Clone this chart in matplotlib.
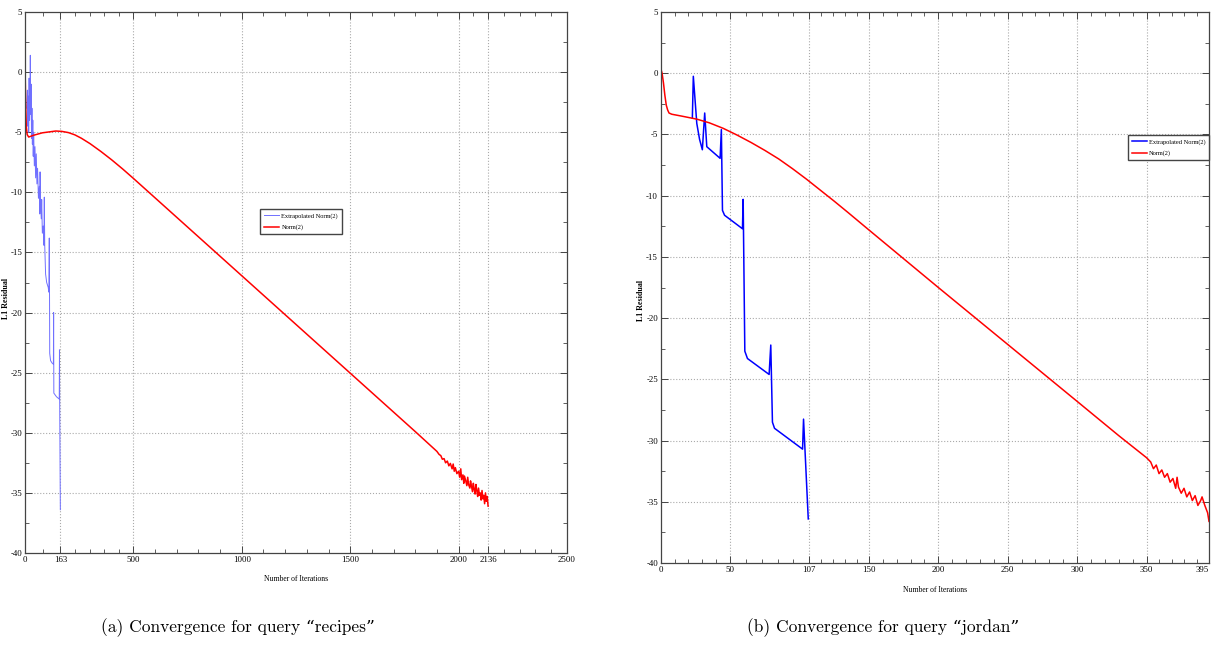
import matplotlib
matplotlib.use('Agg')
import matplotlib.pyplot as plt
import numpy as np

# --- данные ---
# (a) запрос "recipes"
recipesNormIter = [0, 3, 6, 10, 17, 40, 80, 142, 170, 200, 230, 260, 300, 350, 400, 450, 500, 600, 800, 1000,
                   1200, 1500, 1800, 1900, 1910, 1918, 1925, 1933, 1940, 1948, 1955, 1962, 1970, 1975, 1980,
                   1985, 1992, 2000, 2005, 2010, 2014, 2020, 2024, 2027, 2033, 2038, 2042, 2046, 2052, 2055,
                   2058, 2064, 2068, 2072, 2076, 2080, 2084, 2088, 2092, 2096, 2100, 2104, 2108, 2112, 2116,
                   2120, 2124, 2128, 2132, 2136]
recipesNorm = [0.5, -2.5, -4.5, -5.2, -5.4, -5.25, -5.05, -4.9, -4.93, -5.03, -5.22, -5.5, -5.95, -6.6, -7.3,
               -8.05, -8.84, -10.46, -13.7, -16.94, -20.18, -25.04, -29.9, -31.55, -31.8, -31.9, -32.2,
               -32.15, -32.5, -32.35, -32.75, -32.55, -33.0, -32.6, -33.2, -32.9, -33.4, -33.2, -33.7, -33.0,
               -33.9, -33.5, -34.2, -33.6, -34.0, -34.4, -33.7, -34.3, -34.6, -34.0, -34.3, -34.9, -34.2,
               -34.7, -35.1, -34.3, -34.8, -35.3, -34.6, -35.2, -35.0, -35.6, -34.8, -35.5, -35.2, -35.9,
               -35.0, -35.7, -35.3, -36.1]
recipesExtIter = [8, 11, 13, 15, 17, 19, 21, 23, 24.5, 26, 28, 30, 32, 34, 36, 38, 40, 43, 46, 49, 52, 55,
                  58, 62, 66, 68, 69.5, 72, 75, 77, 80, 84, 87, 89, 91, 95, 100, 107, 110, 112, 113, 114,
                  118, 125, 131, 132, 133, 145, 158, 159, 160, 163]
recipesExt = [-3.0, -1.5, -4.5, -2.0, -5.0, -0.5, -4.0, -2.5, 1.4, -3.5, -1.0, -5.5, -3.0, -6.0, -4.0, -7.0,
              -5.0, -7.8, -6.2, -8.8, -6.8, -9.3, -8.0, -10.5, -9.5, -11.8, -8.3, -11.0, -12.2, -10.6, -13.4,
              -12.8, -14.4, -10.4, -14.4, -16.8, -17.5, -17.9, -18.3, -13.8, -18.0, -23.4, -24.0, -24.2,
              -24.3, -20.0, -26.7, -27.0, -27.2, -23.1, -27.5, -36.4]
recipesTicks = [0, 163, 500, 1000, 1500, 2000, 2136, 2500]

# (b) запрос "jordan"
jordanNormIter = [0, 1, 2, 3, 4, 5, 6, 8, 15, 26, 35, 45, 55, 65, 75, 85, 95, 105, 115, 125, 135, 150, 200,
                  250, 300, 330, 340, 345, 350, 353, 355, 357, 359, 361, 363, 365, 367, 369, 371, 372, 373,
                  375, 377, 379, 381, 383, 385, 387, 389, 390, 392, 394, 395]
jordanNorm = [0.4, 0.0, -0.8, -1.8, -2.6, -3.0, -3.25, -3.35, -3.5, -3.75, -4.05, -4.5, -5.05, -5.65, -6.3,
              -7.0, -7.8, -8.65, -9.55, -10.45, -11.38, -12.8, -17.5, -22.15, -26.8, -29.6, -30.5, -30.95,
              -31.4, -31.75, -32.3, -32.0, -32.7, -32.4, -33.0, -32.7, -33.4, -33.1, -33.9, -33.0, -33.8,
              -34.3, -33.9, -34.6, -34.2, -34.9, -34.5, -35.3, -34.9, -34.6, -35.3, -35.9, -36.6]
jordanExtIter = [22.8, 23.5, 26, 28, 30, 31.7, 33.2, 42.8, 43.7, 44.5, 46, 58.9, 59.4, 60.6, 62.5, 78.1,
                 79.3, 80.5, 82, 102.2, 102.9, 106.3]
jordanExt = [-3.66, -0.25, -4.1, -5.4, -6.25, -3.25, -6.0, -6.95, -4.6, -11.2, -11.6, -12.7, -10.3, -22.7,
             -23.3, -24.6, -22.2, -28.5, -29.0, -30.7, -28.25, -36.4]
jordanTicks = [0, 50, 107, 150, 200, 250, 300, 350, 395]

yTicks = [5, 0, -5, -10, -15, -20, -25, -30, -35, -40]

plt.rcParams['axes.unicode_minus'] = False
smallFont = {'family': 'Liberation Serif', 'size': 6.3}
legendFont = {'family': 'Liberation Serif', 'size': 4.6}


def minorBetween(ticks, parts):  # мелкие деления между подписанными
    res = []
    for a, b, n in zip(ticks[:-1], ticks[1:], parts):
        res += list(np.linspace(a, b, n + 1)[1:-1])
    return res


def setupAxes(ax, xmax, xticks, xminor, gridTicks, ylabPos, xlabPos):
    ax.set_xlim(0, xmax)
    ax.set_ylim(-40, 5)
    ax.set_xticks(xticks)
    ax.set_xticks(xminor, minor=True)
    ax.set_yticks(yTicks)
    ax.set_yticks(np.arange(-37.5, 5, 5), minor=True)
    ax.set_xticklabels([str(t) for t in xticks], fontdict=smallFont)
    ax.set_yticklabels([str(t) for t in yTicks], fontdict=smallFont)
    ax.tick_params(which='both', direction='in', top=True, right=True, pad=2, color='#444444')
    ax.tick_params(which='major', length=5, width=0.7)
    ax.tick_params(which='minor', length=3, width=0.6)
    for t in gridTicks:
        ax.axvline(t, color='#aaaaaa', linestyle=':', linewidth=0.8, zorder=0)
    for t in yTicks[1:-1]:
        ax.axhline(t, color='#aaaaaa', linestyle=':', linewidth=0.8, zorder=0)
    for s in ax.spines.values():
        s.set_color('#444444')
        s.set_linewidth(0.9)
    ax.set_ylabel('L1 Residual', family='Liberation Serif', size=5.8, fontweight='bold')
    ax.yaxis.set_label_coords(*ylabPos)
    ax.set_xlabel('Number of Iterations', family='Liberation Serif', size=5.5)
    ax.xaxis.set_label_coords(*xlabPos)


def addLegend(ax, anchor):
    ax.legend(loc='upper left', bbox_to_anchor=anchor, prop=legendFont, fancybox=False,
              edgecolor='#444444', framealpha=1, handlelength=2.4, borderpad=0.6, labelspacing=0.9,
              handletextpad=0.3, borderaxespad=0)


fig = plt.figure(figsize=(12.12, 6.5), dpi=100)
axA = fig.add_axes([25 / 1212, 1 - 553 / 650, 542 / 1212, 541 / 650])
axB = fig.add_axes([660.7 / 1212, 1 - 563 / 650, 548.3 / 1212, 551 / 650])

axA.plot(recipesExtIter, recipesExt, color='#7070ff', linewidth=0.7, label='Extrapolated Norm(2)')
axA.plot(recipesNormIter, recipesNorm, color='#ff0000', linewidth=1.1, label='Norm(2)')
setupAxes(axA, 2500, recipesTicks, minorBetween(recipesTicks, [2, 5, 5, 5, 5, 2, 5]),
          recipesTicks[1:-1], (-0.028, 0.47), (0.5, -0.041))
addLegend(axA, (0.434, 0.636))

axB.plot(jordanExtIter, jordanExt, color='#0000ff', linewidth=1.1, label='Extrapolated Norm(2)')
axB.plot(jordanNormIter, jordanNorm, color='#ff0000', linewidth=1.1, label='Norm(2)')
setupAxes(axB, 395, jordanTicks, minorBetween(jordanTicks, [5, 5, 5, 5, 5, 5, 5, 5]),
          jordanTicks[1:-1], (-0.029, 0.477), (0.5, -0.042))
axB.get_xticklabels()[-1].set_horizontalalignment('right')
addLegend(axB, (0.852, 0.777))

capFont = ['cmr10', 'DejaVu Serif']
fig.text(238 / 1212, 1 - 628 / 650, '(a) Convergence for query \u201crecipes\u201d', family=capFont,
         size=12.5, ha='center', va='center')
fig.text(883 / 1212, 1 - 628 / 650, '(b) Convergence for query \u201cjordan\u201d', family=capFont,
         size=12.5, ha='center', va='center')

fig.savefig('out.png', dpi=100)
